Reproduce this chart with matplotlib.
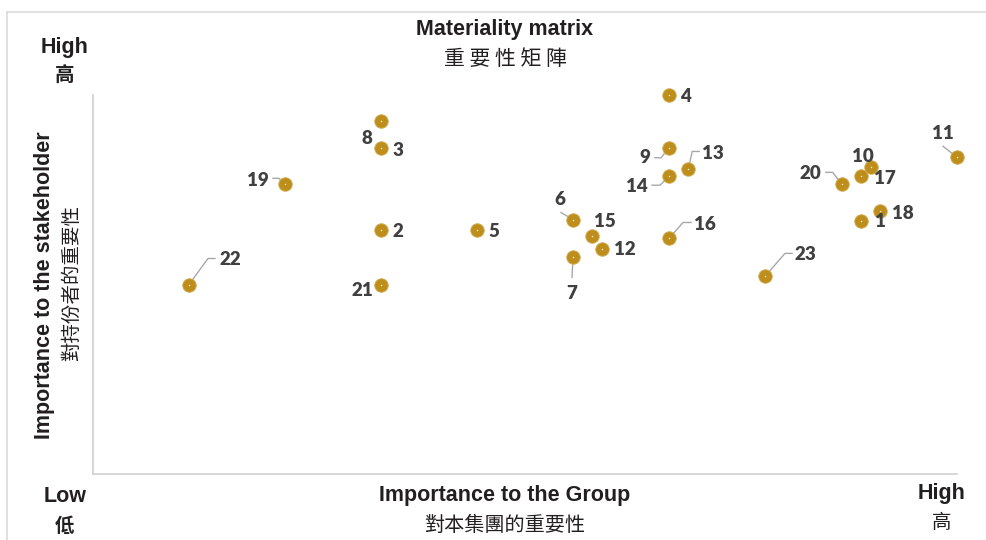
import numpy as np
import matplotlib
matplotlib.use("Agg")
import matplotlib.pyplot as plt
from matplotlib.lines import Line2D

# topic ids and their scores (group importance, stakeholder importance)
topics = ['1', '2', '3', '4', '5', '6', '7', '8', '9', '10', '11', '12',
          '13', '14', '15', '16', '17', '18', '19', '20', '21', '22', '23']
group_score = [8.0, 3.0, 3.0, 6.0, 4.0, 5.0, 5.0, 3.0, 6.0, 8.1, 9.0, 5.3,
               6.2, 6.0, 5.2, 6.0, 8.0, 8.2, 2.0, 7.8, 3.0, 1.0, 7.0]
stake_score = [9.35, 9.0, 12.05, 14.0, 9.0, 9.4, 8.0, 13.05, 12.05, 11.35, 11.7, 8.3,
               11.25, 11.0, 8.8, 8.7, 11.0, 9.7, 10.7, 10.7, 7.0, 7.0, 7.3]

# label placement in pixels relative to the point (dx right, dy down)
label_off = {'1': (19, 1), '2': (17, 1), '3': (17, 3), '4': (17, 2), '5': (17, 1),
             '6': (-13, -20), '7': (-1, 36), '8': (-14, 18), '9': (-24, 10),
             '10': (-8, -10), '11': (-14, -24), '12': (23, 0), '13': (25, -16),
             '14': (-32, 10), '15': (13, -14), '16': (36, -14), '17': (24, 2),
             '18': (23, 2), '19': (-27, -4), '20': (-31, -11), '21': (-19, 6),
             '22': (41, -25), '23': (40, -22)}
leaders = {'6': [(0, 0), (-12, -7)],
           '7': [(0, 0), (-1, 20)],
           '9': [(0, 0), (-8, 10), (-14, 10)],
           '11': [(0, 0), (-14, -11)],
           '13': [(0, 0), (4, -18), (11, -18)],
           '14': [(0, 0), (-9, 9), (-17, 9)],
           '16': [(0, 0), (14, -16), (22, -16)],
           '19': [(0, 0), (-6, -6), (-12, -6)],
           '20': [(0, 0), (-9, -12), (-16, -12)],
           '22': [(0, 0), (19, -26), (26, -26)],
           '23': [(0, 0), (20, -23), (27, -23)]}

W, H = 987, 540
fig = plt.figure(figsize=(W / 100, H / 100), dpi=100)
ax = fig.add_axes([93 / W, 1 - 474 / H, (957 - 93) / W, (474 - 95) / H])
ax.set_xlim(0, 9)
ax.set_ylim(0, 14)
for s in ['top', 'right']:
    ax.spines[s].set_visible(False)
for s in ['left', 'bottom']:
    ax.spines[s].set_color('#CFCFCF')
    ax.spines[s].set_linewidth(1.2)
ax.set_xticks([])
ax.set_yticks([])

gold = '#BE8E1C'
ax.scatter(group_score, stake_score, s=95, color=gold, edgecolor='#D3AE55',
           linewidth=0.6, zorder=3, clip_on=False)
ax.scatter(group_score, stake_score, s=1.2, color='#F2E6C8', linewidth=0,
           zorder=4, clip_on=False)

fig.canvas.draw()
for t, x, y in zip(topics, group_score, stake_score):
    px, py = ax.transData.transform((x, y))
    if t in leaders:
        pts = np.array([(px + dx, py - dy) for dx, dy in leaders[t]])
        ax.add_line(Line2D(pts[:, 0], pts[:, 1], transform=None, color='#A8A8A8',
                           linewidth=1.0, zorder=2.5, clip_on=False))
    dx, dy = label_off[t]
    ax.annotate(t, (x, y), xytext=(dx, -dy), textcoords='offset pixels',
                ha='center', va='center', fontsize=13.5, fontweight='heavy',
                family='Lato', color='#404040', annotation_clip=False)

en = dict(family='Liberation Sans', fontweight='bold', color='#231F20', ha='center', va='center')
cjk = ['Noto Sans CJK TC', 'DejaVu Sans']

def ftext(x, y, s, **kw):
    fig.text(x / W, 1 - y / H, s, **kw)

ftext(505, 30, 'Materiality matrix', fontsize=15.5, **en)
ftext(505, 59, '重 要 性 矩 陣', fontsize=15, family=cjk, color='#231F20', ha='center', va='center')
ftext(65, 47, 'High', fontsize=15.5, **en)
ftext(65, 76, '高', fontsize=14, family=cjk, fontweight='bold', color='#231F20', ha='center', va='center')
ftext(65, 496, 'Low', fontsize=15.5, **en)
ftext(65, 526, '低', fontsize=14, family=cjk, fontweight='bold', color='#231F20', ha='center', va='center')
ftext(942, 493, 'High', fontsize=15.5, **en)
ftext(942, 523, '高', fontsize=14, family=cjk, color='#231F20', ha='center', va='center')
ftext(505, 496, 'Importance to the Group', fontsize=15.5, **en)
ftext(505, 525, '對本集團的重要性', fontsize=14.5, family=cjk, color='#231F20', ha='center', va='center')
ftext(45, 285, 'Importance to the stakeholder', fontsize=15.5, rotation=90, **en)
ftext(72, 283, '對持份者的重要性', fontsize=14, family=cjk, color='#231F20', ha='center', va='center',
      rotation=90)

# light frame around the panel
fig.add_artist(Line2D([7 / W, 1], [1 - 12 / H, 1 - 12 / H], transform=fig.transFigure,
                      color='#DCDCDC', linewidth=1.2))
fig.add_artist(Line2D([7 / W, 7 / W], [0, 1 - 12 / H], transform=fig.transFigure,
                      color='#DCDCDC', linewidth=1.2))

fig.savefig('out.png', dpi=100)
